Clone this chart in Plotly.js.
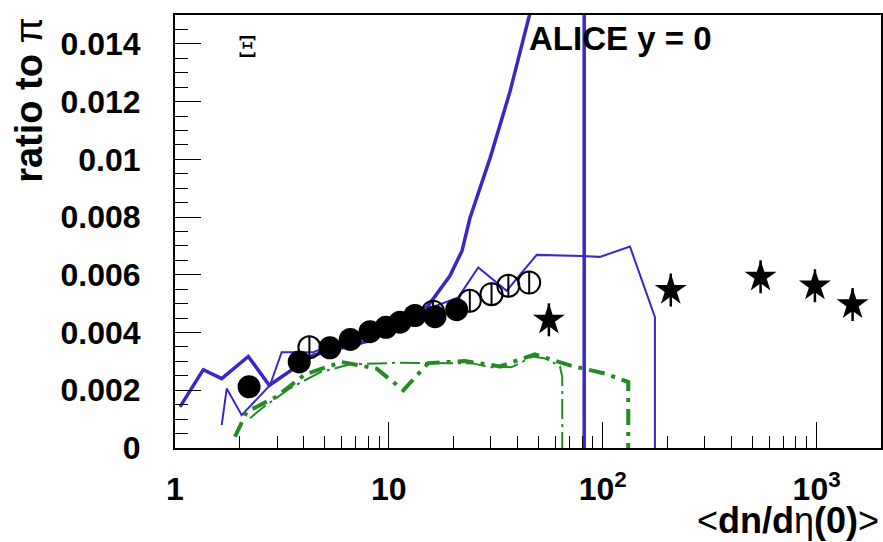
<!DOCTYPE html>
<html>
<head>
<meta charset="utf-8">
<script src="https://cdn.plot.ly/plotly-3.0.1.min.js"></script>
<style>html,body{margin:0;padding:0;background:#fff;}#plot{width:883px;height:542px;}</style>
</head>
<body>
<div id="plot"></div>
<script>
// ---- data ----
const xFilled = [2.22, 3.81, 5.30, 6.60, 8.16, 9.69, 11.27, 13.24, 16.43, 20.75];
const yFilled = [0.00212, 0.00298, 0.00347, 0.00376, 0.00403, 0.00418, 0.00436, 0.00459, 0.00455, 0.00479];

const xOpen = [4.25, 16.1, 23.9, 30.2, 36.2, 45.3];
const yOpen = [0.00349, 0.00472, 0.00510, 0.00533, 0.00562, 0.00573];
const eOpen = [0.0004, 0.0004, 0.0004, 0.0004, 0.0004, 0.0004];

const xStar = [56.0, 208, 547, 982, 1473];
const yStar = [0.00444, 0.00547, 0.00593, 0.00562, 0.00497];
const eStar = [0.00057, 0.00057, 0.00057, 0.00057, 0.00057];

const xBlueThick = [1.055, 1.356, 1.653, 2.201, 2.760, 4.418, 8.157, 15.07, 19.30, 21.97, 23.94, 29.70, 36.83, 45.19, 71.8, 81.9, 81.9];
const yBlueThick = [0.001424, 0.002714, 0.002403, 0.003172, 0.002172, 0.003207, 0.003724, 0.004872, 0.005966, 0.006828, 0.007966, 0.010034, 0.012345, 0.014931, 0.02, 0.02, 0];

const xBlueThin = [1.653, 1.745, 2.050, 2.781, 3.153, 4.432, 21.11, 26.18, 35.54, 49.09, 79.69, 97.03, 134.1, 175.4, 175.4];
const yBlueThin = [0.000793, 0.002059, 0.001138, 0.002172, 0.003321, 0.003321, 0.005217, 0.006252, 0.005448, 0.00669, 0.006655, 0.006621, 0.006976, 0.004528, 0];

const xGreenA = [1.908, 2.164, 2.967, 4.054, 6.016, 8.770, 11.68, 15.29, 22.69, 33.06, 48.20, 70.27, 102.4, 131.6, 131.6];
const yGreenA = [0.00039, 0.001252, 0.001769, 0.002552, 0.002976, 0.002748, 0.002, 0.002941, 0.00301, 0.002828, 0.003241, 0.002862, 0.002576, 0.002286, 0];

const xGreenB = [2.242, 2.551, 3.449, 4.762, 6.578, 11.27, 24.73, 29.70, 37.51, 47.18, 54.67, 63.08, 64.67, 64.67];
const yGreenB = [0.001034, 0.001379, 0.002069, 0.002621, 0.002897, 0.002955, 0.002931, 0.002793, 0.002803, 0.003172, 0.003093, 0.002828, 0.002459, 0];

const xTickVals = [1, 10, 100, 1000];
const xTickText = ['1', '10', '10<sup>2</sup>', '10<sup>3</sup>'];
const yTickVals = [0, 0.002, 0.004, 0.006, 0.008, 0.01, 0.012, 0.014];
const yTickText = ['0', '0.002', '0.004', '0.006', '0.008', '0.01', '0.012', '0.014'];

// ---- styles ----
const BLUE = '#3a27c8';
const GREEN = '#228b22';
const FONT = 'Liberation Sans, Arial, Helvetica, sans-serif';

const minorX = [];
[1, 10, 100, 1000].forEach(d => { for (let k = 2; k <= 9; k++) { if (d * k <= 2000) minorX.push(d * k); } });

const traces = [
  {x: xBlueThin, y: yBlueThin, mode: 'lines', line: {color: BLUE, width: 2}},
  {x: xBlueThick, y: yBlueThick, mode: 'lines', line: {color: BLUE, width: 3.5}},
  {x: xGreenB, y: yGreenB, mode: 'lines', line: {color: GREEN, width: 2, dash: '20px,5px,3px,5px'}},
  {x: xGreenA, y: yGreenA, mode: 'lines', line: {color: GREEN, width: 4, dash: '16px,7px,4px,7px'}},
  {x: xOpen, y: yOpen, mode: 'markers',
   marker: {symbol: 'circle-open', size: 22, color: 'black', line: {width: 2, color: 'black'}},
   error_y: {type: 'data', array: eOpen, visible: true, color: 'black', thickness: 2, width: 0}},
  {x: xFilled, y: yFilled, mode: 'markers', marker: {symbol: 'circle', size: 23, color: 'black'}},
  {x: xStar, y: yStar, mode: 'markers', marker: {symbol: 'star', size: 24, color: 'black'},
   error_y: {type: 'data', array: eStar, visible: true, color: 'black', thickness: 2.5, width: 0}}
];

const layout = {
  width: 883, height: 542,
  margin: {l: 175, r: 2, t: 15, b: 94, pad: 0},
  paper_bgcolor: 'white', plot_bgcolor: 'white',
  showlegend: false,
  font: {family: FONT, color: 'black'},
  xaxis: {
    type: 'log', range: [0, Math.log10(2000)],
    showgrid: false, zeroline: false,
    showline: true, linecolor: 'black', linewidth: 2, mirror: true,
    ticks: 'inside', ticklen: 26, tickwidth: 1, tickcolor: 'black',
    tickmode: 'array', tickvals: xTickVals, ticktext: xTickText,
    tickfont: {family: FONT, size: 32, weight: 'bold', color: 'black'},
    ticklabelstandoff: 12,
    minor: {tickmode: 'array', tickvals: minorX, ticks: 'inside', ticklen: 12, tickwidth: 1, tickcolor: 'black', showgrid: false}
  },
  yaxis: {
    range: [0, 0.015],
    showgrid: false, zeroline: false,
    showline: true, linecolor: 'black', linewidth: 2, mirror: true,
    ticks: 'inside', ticklen: 26, tickwidth: 1, tickcolor: 'black',
    tickmode: 'array', tickvals: yTickVals, ticktext: yTickText,
    tickfont: {family: FONT, size: 32, weight: 'bold', color: 'black'},
    ticklabelstandoff: 26,
    minor: {dtick: 0.0005, ticks: 'inside', ticklen: 13, tickwidth: 1, tickcolor: 'black', showgrid: false}
  },
  annotations: [
    {xref: 'paper', yref: 'paper', x: 0.499, y: 0.946, xanchor: 'left', yanchor: 'middle',
     text: '<b>ALICE y = 0</b>', showarrow: false, font: {family: FONT, size: 33, color: 'black'}},
    {xref: 'paper', yref: 'paper', x: 0.102, y: 0.926, xanchor: 'center', yanchor: 'middle',
     text: 'Ξ', showarrow: false, font: {family: 'DejaVu Serif', size: 27, color: 'black'}},
    {xref: 'paper', yref: 'paper', x: 1.0, y: -0.168, xanchor: 'right', yanchor: 'middle',
     text: '&lt;<b>dn/d</b>η<b>(0)</b>&gt;', showarrow: false, font: {family: FONT, size: 36, color: 'black'}},
    {xref: 'paper', yref: 'paper', x: -0.207, y: 1.0, xanchor: 'center', yanchor: 'top', textangle: -90,
     text: '<b>ratio to </b>π', showarrow: false, font: {family: FONT, size: 38, color: 'black'}}
  ]
};

Plotly.newPlot('plot', traces, layout, {staticPlot: true, displayModeBar: false});
</script>
</body>
</html>
